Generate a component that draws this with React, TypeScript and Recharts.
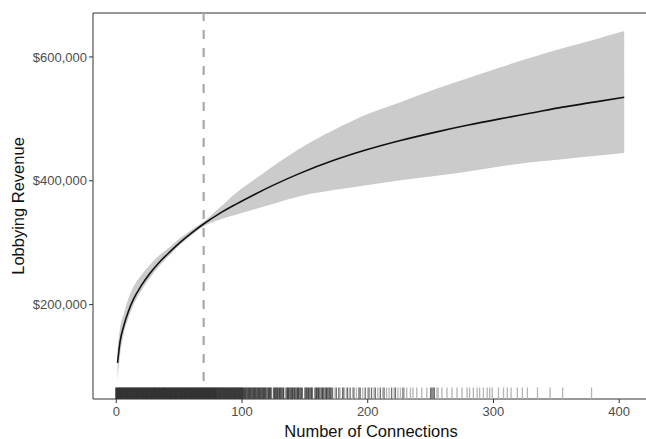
import { Area, ComposedChart, Line, ReferenceLine, Scatter, XAxis, YAxis } from 'recharts';

const FONT = '"Liberation Sans", Arial, Helvetica, sans-serif';
const TICK = { fill: '#4d4d4d', fontSize: 13 };
const AXIS = '#333333';
const BAND = '#cbcbcb';
// rug shade by number of firms sharing a count
const RUG_SHADE = ['#ffffff', '#b4b4b4', '#6e6e6e', '#474747', '#3a3a3a', '#333333'];

// fitted curve (number of connections -> lobbying revenue)
const connections = [1, 3, 6, 10, 14, 20, 27, 35, 43, 51, 60, 70, 82, 95, 110, 125, 146, 173, 199, 226, 255, 280, 305, 330, 355, 380, 404];
const revenue = [106000, 140000, 166000, 191000, 210000, 231000, 251000, 270000, 286000, 301000, 316000, 331000, 347000, 362000, 378000, 393000, 412000, 433000, 450000, 465000, 479000, 490000, 500000, 509500, 519000, 527000, 535000];
const lower = [78000, 118000, 153000, 180000, 201000, 223000, 244000, 264000, 281000, 297000, 312000, 327000, 337000, 345000, 354000, 363000, 375000, 385000, 393000, 401000, 408000, 415000, 423000, 430000, 435000, 440000, 445000];
const upper = [128000, 162000, 185000, 212000, 230000, 248000, 265000, 281000, 294000, 308000, 321000, 335000, 356000, 380000, 402000, 424000, 452000, 482000, 507000, 527000, 549000, 566000, 583000, 599000, 614000, 628000, 642000];

// rug: observed connection counts and how many firms share each
const rugX = [
  0, 1, 2, 3, 4, 5, 6, 7, 8, 9, 10, 11, 12, 13, 14, 15, 16, 17, 18, 19, 20, 21, 22, 23, 24, 25, 26, 27, 28, 29,
  30, 31, 32, 33, 34, 35, 36, 37, 38, 39, 40, 41, 42, 43, 44, 45, 46, 47, 48, 49, 50, 51, 52, 53, 54, 55, 56, 57, 58, 59,
  60, 61, 62, 63, 64, 65, 66, 67, 68, 69, 70, 71, 72, 73, 74, 75, 76, 77, 78, 79, 80, 81, 82, 83, 84, 85, 86, 87, 88, 89,
  90, 91, 92, 93, 94, 95, 96, 97, 98, 99, 100,
  101, 102, 103, 104, 105, 106, 107, 108, 109, 110, 111, 112, 113, 114, 115, 116, 117, 118, 119, 120, 121, 122, 123, 125,
  126, 127, 128, 129, 130, 131, 132, 133, 135, 136, 137, 138, 139, 140, 141, 142, 143, 144, 145, 146, 147, 148, 150, 151,
  152, 153, 154, 155, 156, 158, 159, 160, 161, 162, 163, 164, 165, 166, 167, 168, 169, 170,
  171, 172, 174, 175, 177, 178, 180, 181, 183, 184, 186, 188, 189, 191, 193, 194, 196, 198, 200, 201, 203, 205, 206, 208,
  210, 212, 213, 215, 217, 219, 221, 222, 224, 226, 228, 229,
  231, 234, 236, 239, 243, 247, 250, 251, 252, 253, 255, 256, 259, 263, 267, 271, 275, 279, 281, 284, 287, 289, 292, 295,
  297, 299, 304, 308, 311, 314, 319, 323, 327, 335, 345, 355, 378,
];
const rugN = [
  5, 5, 5, 5, 5, 5, 5, 5, 5, 5, 5, 5, 5, 5, 5, 5, 5, 5, 5, 5, 5, 5, 5, 5, 5, 5, 5, 5, 5, 5,
  5, 5, 5, 5, 5, 5, 5, 5, 5, 5, 5, 5, 5, 5, 5, 5, 5, 5, 5, 5, 5, 5, 5, 5, 5, 5, 5, 5, 5, 5,
  5, 5, 5, 5, 5, 5, 5, 5, 5, 5, 5, 5, 5, 5, 5, 5, 5, 5, 5, 5, 4, 4, 4, 4, 4, 4, 4, 4, 4, 4,
  4, 4, 4, 4, 4, 4, 4, 4, 4, 4, 4,
  3, 3, 3, 3, 3, 3, 3, 3, 3, 3, 3, 3, 3, 3, 3, 3, 3, 3, 3, 2, 3, 3, 3, 2,
  3, 3, 3, 2, 3, 3, 2, 3, 2, 3, 3, 2, 3, 3, 2, 3, 2, 3, 3, 2, 3, 2, 2, 3,
  2, 3, 2, 3, 2, 2, 3, 2, 3, 2, 2, 3, 2, 2, 3, 2, 2, 3,
  2, 2, 1, 2, 2, 1, 2, 2, 1, 2, 2, 1, 2, 1, 2, 2, 1, 2, 1, 2, 2, 1, 2, 1,
  2, 1, 2, 1, 1, 2, 1, 2, 1, 1, 2, 1,
  1, 1, 1, 1, 1, 1, 2, 2, 2, 2, 1, 1, 1, 1, 1, 1, 1, 1, 1, 1, 1, 1, 1, 1,
  1, 1, 1, 1, 1, 1, 1, 1, 1, 1, 1, 1, 1,
];

const X_TICKS = [0, 100, 200, 300, 400];
const Y_TICKS = [200000, 400000, 600000];
const X_DOMAIN = [-18.5, 424.5];
const Y_DOMAIN = [47600, 671000];
const CUTOFF = 69.5;

const fit = connections.map((x, i) => ({ x, rev: revenue[i], band: [lower[i], upper[i]] }));
// lighter ticks first so dark ones sit on top
const rug = rugX
  .map((x, i) => ({ x, y: Y_DOMAIN[0], n: rugN[i] }))
  .sort((a, b) => a.n - b.n);

const dollars = (v: number) => '$' + v.toLocaleString('en-US');

function RugTick(props: any) {
  const { cx, cy, payload } = props;
  const w = payload.n >= 4 ? 2 : payload.n === 3 ? 1.6 : 1.3;
  return <line x1={cx} x2={cx} y1={cy - 11.5} y2={cy} stroke={RUG_SHADE[Math.min(payload.n, 5)]} strokeWidth={w} />;
}

function XTitle() {
  return (
    <text x={371} y={437} textAnchor="middle" fontSize={16.5} fill="#111" fontFamily={FONT}>
      Number of Connections
    </text>
  );
}

function YTitle() {
  return (
    <text x={24} y={206} textAnchor="middle" fontSize={16.5} fill="#111" fontFamily={FONT} transform="rotate(-90 24 206)">
      Lobbying Revenue
    </text>
  );
}

export default function App() {
  return (
    <div style={{ position: 'absolute', left: 0, top: 0, width: 646, height: 439, overflow: 'hidden', background: '#fff', fontFamily: FONT }}>
      <ComposedChart width={660} height={439} margin={{ top: 13, right: 10, left: 0, bottom: 0 }} style={{ fontFamily: FONT }}>
        <XAxis
          dataKey="x"
          type="number"
          domain={X_DOMAIN}
          ticks={X_TICKS}
          allowDataOverflow
          height={40}
          tick={TICK}
          tickSize={4}
          tickMargin={4}
          tickLine={{ stroke: AXIS }}
          axisLine={{ stroke: AXIS }}
          label={<XTitle />}
        />
        <YAxis
          dataKey="y"
          type="number"
          domain={Y_DOMAIN}
          ticks={Y_TICKS}
          allowDataOverflow
          width={93}
          tick={TICK}
          tickSize={4}
          tickMargin={2}
          tickLine={{ stroke: AXIS }}
          axisLine={{ stroke: AXIS }}
          tickFormatter={dollars}
          label={<YTitle />}
        />
        <Area data={fit} dataKey="band" type="monotone" fill={BAND} fillOpacity={1} stroke="none" isAnimationActive={false} />
        <Line data={fit} dataKey="rev" type="monotone" stroke="#111" strokeWidth={1.6} dot={false} activeDot={false} isAnimationActive={false} />
        <Scatter data={rug} dataKey="y" shape={<RugTick />} isAnimationActive={false} />
        <ReferenceLine y={Y_DOMAIN[1]} stroke={AXIS} strokeWidth={1} />
        <ReferenceLine x={CUTOFF} stroke="#a8a8a8" strokeWidth={2.2} strokeDasharray="9 9" />
      </ComposedChart>
    </div>
  );
}
